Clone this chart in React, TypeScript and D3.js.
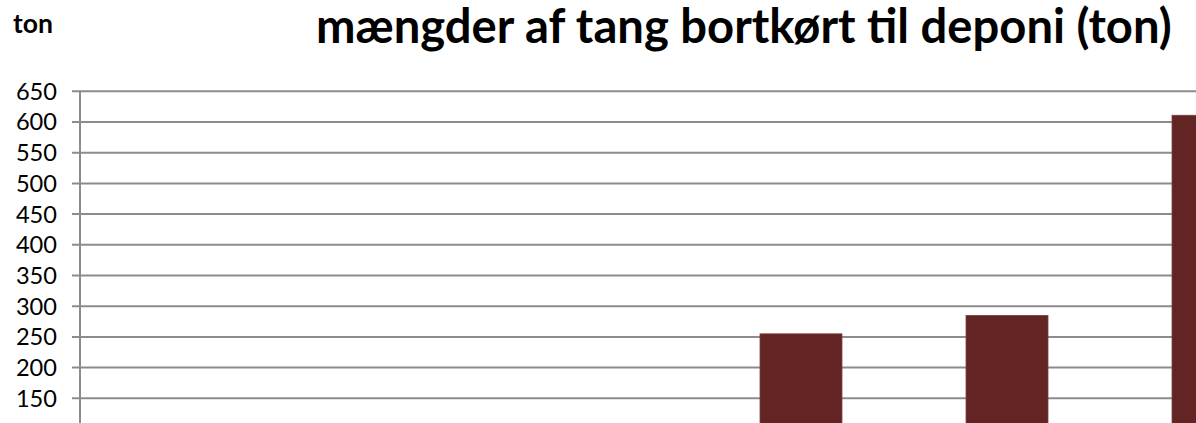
import React, { useEffect, useRef, useState } from "react";
import * as d3 from "d3";

const categories = ["c1", "c2", "c3", "c4", "c5", "c6"];
const values = [0, 0, 0, 255, 285, 611];
const yTicks = [150, 200, 250, 300, 350, 400, 450, 500, 550, 600, 650];
const title = "mængder af tang bortkørt til deponi (ton)";
const yUnit = "ton";

const W = 1196;
const H = 423;
const axisX = 80;

export default function App() {
  const titleRef = useRef<SVGTextElement>(null);
  const unitRef = useRef<SVGTextElement>(null);
  const [titleSize, setTitleSize] = useState(44);
  const [unitSize, setUnitSize] = useState(21);

  useEffect(() => {
    if (titleRef.current) {
      const w = titleRef.current.getComputedTextLength();
      if (w > 0) setTitleSize((s) => (Math.abs(w - 856) > 2 ? (s * 856) / w : s));
    }
    if (unitRef.current) {
      const w = unitRef.current.getComputedTextLength();
      if (w > 0) setUnitSize((s) => (Math.abs(w - 40) > 1 ? (s * 40) / w : s));
    }
  }, [titleSize, unitSize]);

  const x = d3
    .scaleBand<string>()
    .domain(categories)
    .range([axisX, axisX + 206 * categories.length])
    .paddingInner(124 / 206)
    .paddingOuter(62 / 206);
  const y = d3.scaleLinear().domain([0, 650]).range([490.4, 91.3]);
  const font = "Lato, 'Open Sans', 'DejaVu Sans', sans-serif";
  return (
    <div style={{ position: "fixed", left: 0, top: 0 }}>
      <svg width={W} height={H} style={{ display: "block", background: "#fff" }}>
        <text ref={unitRef} x={13} y={33} fontFamily={font} fontWeight={700} fontSize={unitSize} fill="#000">
          {yUnit}
        </text>
        <text ref={titleRef} x={316} y={43} fontFamily={font} fontWeight={700} fontSize={titleSize} fill="#000">
          {title}
        </text>
        {yTicks.map((t) => (
          <g key={t}>
            <line x1={72} x2={W} y1={y(t)} y2={y(t)} stroke="#8c8c8c" strokeWidth={2} />
            <text
              x={57}
              y={y(t)}
              dy="0.36em"
              textAnchor="end"
              fontFamily={font}
              fontSize={23.6}
              fill="#000"
            >
              {t}
            </text>
          </g>
        ))}
        <line x1={axisX} x2={axisX} y1={y(650)} y2={H} stroke="#8c8c8c" strokeWidth={2} />
        {categories.map((c, i) =>
          values[i] > 0 ? (
            <rect
              key={c}
              x={x(c)}
              y={y(values[i])}
              width={x.bandwidth()}
              height={y(0) - y(values[i])}
              fill="#632523"
              stroke="#7a4443"
              strokeWidth={0.8}
            />
          ) : null
        )}
      </svg>
    </div>
  );
}
